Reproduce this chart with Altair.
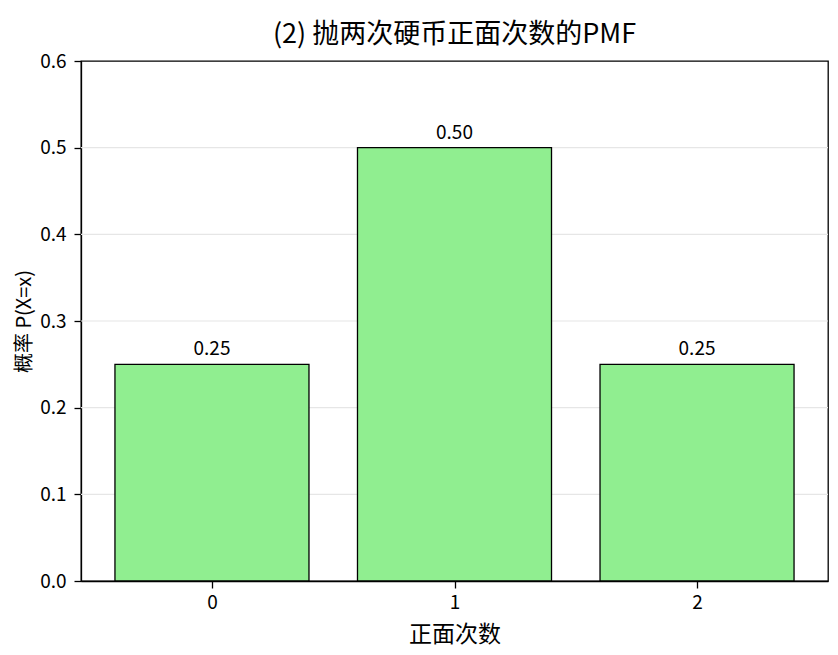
import altair as alt
import pandas as pd

heads = [0, 1, 2]
probs = [0.25, 0.50, 0.25]
labels = ["0.25", "0.50", "0.25"]
yticks = [0, 0.1, 0.2, 0.3, 0.4, 0.5, 0.6]
grid_vals = [0.1, 0.2, 0.3, 0.4, 0.5]

df = pd.DataFrame({"heads": heads, "prob": probs, "label": labels})

FONT = "Noto Sans CJK SC"
xscale = alt.Scale(domain=[-0.54, 2.54], nice=False, zero=False)
yscale = alt.Scale(domain=[0, 0.6], nice=False)

base = alt.Chart(df).transform_calculate(
    x0="datum.heads - 0.4", x1="datum.heads + 0.4"
)

grid = alt.Chart(pd.DataFrame({"g": grid_vals})).mark_rule(
    color="#e6e6e6", strokeWidth=1.2
).encode(y=alt.Y("g:Q", scale=yscale))

bars = base.mark_rect(fill="#90ee90", stroke="black", strokeWidth=1.3).encode(
    x=alt.X("x0:Q", scale=xscale,
            axis=alt.Axis(values=heads, format="d", title="正面次数", grid=False,
                          titleX=373.5, titleY=53, titleBaseline="middle")),
    x2="x1:Q",
    y=alt.Y("prob:Q", scale=yscale,
            axis=alt.Axis(values=yticks, format=".1f",
                          title="概率 P(X=x)", grid=False, titleFontSize=20,
                          titleX=-57, titleY=260, titleBaseline="middle")),
    y2=alt.datum(0),
)

text = base.mark_text(baseline="alphabetic", dy=-9, font=FONT, fontSize=19, color="black").encode(
    x=alt.X("heads:Q", scale=xscale),
    y=alt.Y("prob:Q", scale=yscale),
    text="label:N",
)

chart = alt.layer(grid, bars, text).properties(
    width=747, height=520,
    title=alt.TitleParams("(2) 抛两次硬币正面次数的PMF", font=FONT, fontSize=27,
                          fontWeight="normal", color="black", offset=3),
    autosize=alt.AutoSizeParams(type="none"),
    padding={"left": 73, "top": 53, "right": 2, "bottom": 66},
    background="white",
).configure_view(stroke="black", strokeWidth=1.3).configure_axis(
    labelFont=FONT, titleFont=FONT, labelFontSize=19, titleFontSize=23,
    titleFontWeight="normal", labelColor="black", titleColor="black",
    domainColor="black", tickColor="black", tickSize=7, domainWidth=1.3,
    tickWidth=1.3, labelPadding=5,
).configure_axisY(labelPadding=8)

chart.save("out.html", embed_options={"renderer": "svg", "actions": False})
